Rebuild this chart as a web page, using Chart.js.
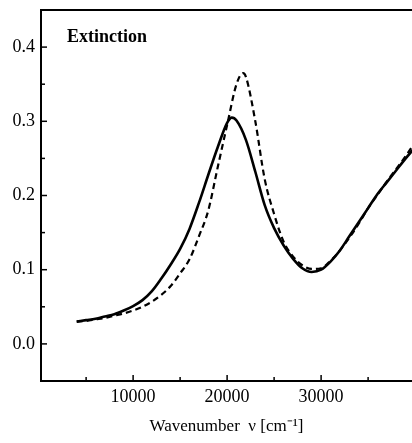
<!DOCTYPE html>
<html>
<head>
<meta charset="utf-8">
<script src="https://cdn.jsdelivr.net/npm/chart.js@4.4.1/dist/chart.umd.min.js"></script>
<style>
  html, body { margin: 0; padding: 0; background: #fff; }
  #wrap { width: 412px; height: 443px; position: relative; }
</style>
</head>
<body>
<div id="wrap"><canvas id="c" width="412" height="443"></canvas></div>
<script>
// Wavenumber (cm^-1) sample positions and extinction values
const solidWavenumber = [4000, 5000, 6000, 7000, 8000, 9000, 10000, 11000, 12000, 13000, 14000, 15000, 16000, 17000, 18000, 19000, 20000, 20500, 21000, 22000, 23000, 24000, 25000, 26000, 27000, 28000, 29000, 30000, 31000, 32000, 33000, 34000, 35000, 36000, 37000, 38000, 39000, 40000];
const solidExtinction = [0.030, 0.032, 0.034, 0.037, 0.040, 0.045, 0.051, 0.059, 0.071, 0.088, 0.107, 0.128, 0.155, 0.190, 0.228, 0.265, 0.298, 0.305, 0.301, 0.275, 0.232, 0.187, 0.156, 0.133, 0.115, 0.102, 0.097, 0.100, 0.111, 0.126, 0.145, 0.164, 0.183, 0.202, 0.218, 0.234, 0.250, 0.265];

const dashedWavenumber = [4000, 5000, 6000, 7000, 8000, 9000, 10000, 11000, 12000, 13000, 14000, 15000, 16000, 17000, 18000, 19000, 20000, 21000, 21700, 22000, 23000, 24000, 25000, 26000, 27000, 28000, 29000, 30000, 31000, 32000, 33000, 34000, 35000, 36000, 37000, 38000, 39000, 40000];
const dashedExtinction = [0.030, 0.031, 0.033, 0.035, 0.038, 0.041, 0.045, 0.050, 0.057, 0.066, 0.078, 0.095, 0.114, 0.145, 0.180, 0.238, 0.295, 0.350, 0.365, 0.360, 0.300, 0.222, 0.175, 0.138, 0.118, 0.106, 0.101, 0.102, 0.112, 0.126, 0.143, 0.162, 0.183, 0.201, 0.219, 0.236, 0.253, 0.272];

const xTickLabels = [10000, 20000, 30000];
const xTickPositions = [5000, 10000, 15000, 20000, 25000, 30000, 35000];
const yTickLabels = [0.0, 0.1, 0.2, 0.3, 0.4];
const yTickPositions = [0.0, 0.05, 0.1, 0.15, 0.2, 0.25, 0.3, 0.35, 0.4];
const panelLabel = 'Extinction';
const xAxisTitle = 'Wavenumber  \u03bd [cm\u207b\u00b9]';

const xMin = 200, xMax = 39670, yMin = -0.05, yMax = 0.45;

const toPoints = (xs, ys) => xs.map((x, i) => ({ x: x, y: ys[i] }));

const serif = "'Liberation Serif', 'Times New Roman', serif";

const framePlugin = {
  id: 'frame',
  afterDraw(chart) {
    const { ctx, chartArea: a, scales: { x, y } } = chart;
    ctx.save();
    ctx.strokeStyle = '#000';
    ctx.lineWidth = 2;
    ctx.beginPath();
    ctx.moveTo(a.left, a.top);
    ctx.lineTo(a.right, a.top);
    ctx.stroke();
    ctx.lineWidth = 1.5;
    yTickPositions.forEach(v => {
      const py = y.getPixelForValue(v);
      const major = yTickLabels.some(t => Math.abs(t - v) < 1e-6);
      ctx.beginPath();
      ctx.moveTo(a.left, py);
      ctx.lineTo(a.left + (major ? 6 : 4), py);
      ctx.stroke();
    });
    xTickPositions.forEach(v => {
      const px = x.getPixelForValue(v);
      const major = xTickLabels.includes(v);
      ctx.beginPath();
      ctx.moveTo(px, a.bottom);
      ctx.lineTo(px, a.bottom - (major ? 6 : 4));
      ctx.stroke();
    });
    ctx.fillStyle = '#000';
    ctx.font = 'bold 18px ' + serif;
    ctx.textBaseline = 'alphabetic';
    ctx.textAlign = 'left';
    ctx.fillText(panelLabel, a.left + 26, a.top + 32);
    ctx.restore();
  }
};

const zeroPad = (s) => { s.paddingTop = 0; s.paddingBottom = 0; s.paddingLeft = 0; s.paddingRight = 0; };

new Chart(document.getElementById('c'), {
  type: 'line',
  data: {
    datasets: [
      {
        label: 'solid',
        data: toPoints(solidWavenumber, solidExtinction),
        borderColor: '#000',
        borderWidth: 2.6,
        pointRadius: 0,
        fill: false,
        cubicInterpolationMode: 'monotone'
      },
      {
        label: 'dashed',
        data: toPoints(dashedWavenumber, dashedExtinction),
        borderColor: '#000',
        borderWidth: 2.2,
        borderDash: [6, 4],
        pointRadius: 0,
        fill: false,
        cubicInterpolationMode: 'monotone'
      }
    ]
  },
  options: {
    responsive: false,
    animation: false,
    events: [],
    clip: true,
    layout: { padding: { top: 10, right: 0, left: 0, bottom: 0 } },
    plugins: { legend: { display: false }, tooltip: { enabled: false }, title: { display: false } },
    scales: {
      x: {
        type: 'linear',
        min: xMin,
        max: xMax,
        grid: { display: false, drawTicks: false },
        border: { display: true, color: '#000', width: 2 },
        afterBuildTicks: (s) => { s.ticks = xTickLabels.map(v => ({ value: v })); },
        ticks: {
          autoSkip: false,
          maxRotation: 0,
          padding: 5,
          color: '#000',
          font: { family: serif, size: 18 },
          callback: (v) => String(v)
        },
        title: {
          display: true,
          text: xAxisTitle,
          color: '#000',
          font: { family: serif, size: 17 },
          padding: { top: 0, bottom: 6 }
        },
        afterFit: (s) => { s.height = 62; zeroPad(s); }
      },
      y: {
        type: 'linear',
        min: yMin,
        max: yMax,
        grid: { display: false, drawTicks: false },
        border: { display: true, color: '#000', width: 2 },
        afterBuildTicks: (s) => { s.ticks = yTickLabels.map(v => ({ value: v })); },
        ticks: {
          autoSkip: false,
          padding: 6,
          color: '#000',
          font: { family: serif, size: 18 },
          callback: (v) => Number(v).toFixed(1)
        },
        afterFit: (s) => { s.width = 41; zeroPad(s); }
      }
    }
  },
  plugins: [framePlugin]
});
</script>
</body>
</html>
